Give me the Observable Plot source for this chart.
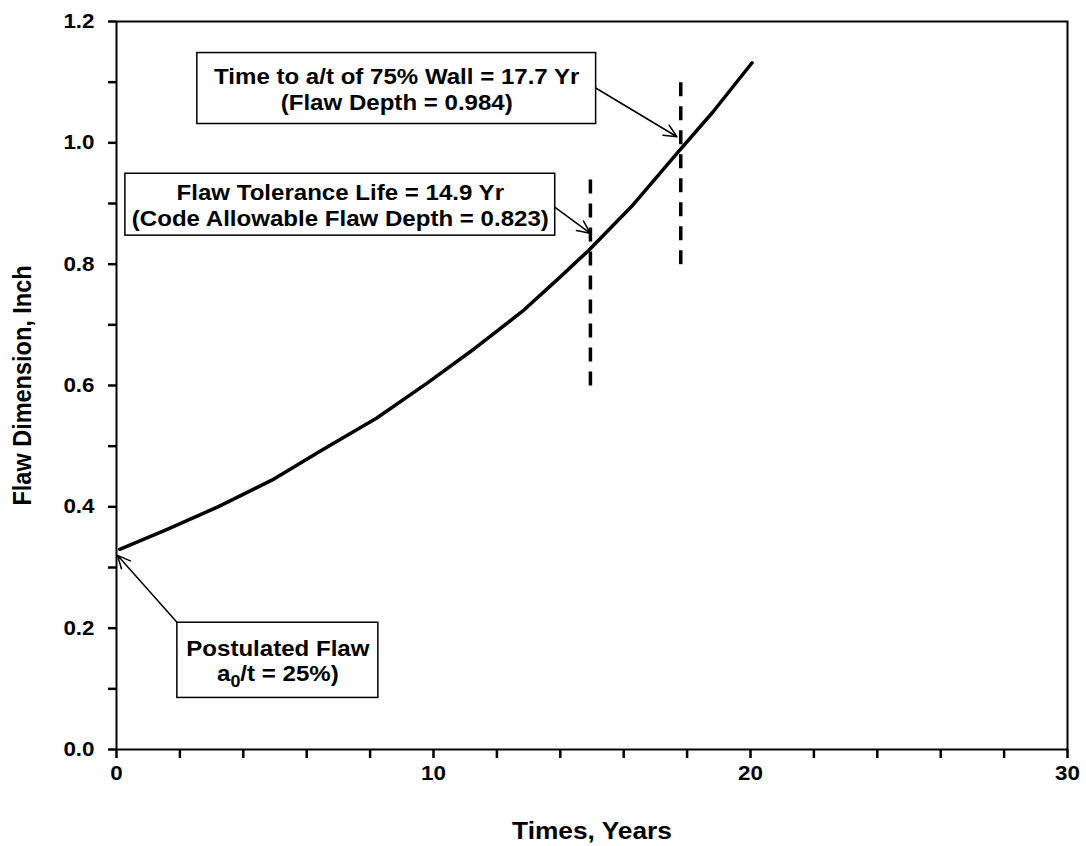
<!DOCTYPE html>
<html>
<head>
<meta charset="utf-8">
<script src="https://cdn.jsdelivr.net/npm/d3@7"></script>
<script src="https://cdn.jsdelivr.net/npm/@observablehq/plot@0.6"></script>
<style>
  html, body { margin: 0; padding: 0; background: #fff; }
  #chart { width: 1086px; height: 846px; }
</style>
</head>
<body>
<div id="chart"></div>
<script>
// Crack growth curve
const years = [0.1, 1.6, 3.2, 4.9, 6.5, 8.2, 9.8, 11.3, 12.8, 14.0, 14.9, 16.3, 17.7, 18.8, 20.05];
const depth = [0.33, 0.363, 0.40, 0.444, 0.494, 0.546, 0.604, 0.661, 0.722, 0.779, 0.823, 0.898, 0.984, 1.05, 1.132];

// Vertical dashed markers
const markerX = [14.95, 17.8];
const markerY1 = [0.60, 0.80];
const markerY2 = [0.955, 1.102];

// Annotation boxes
const boxX1 = [2.55, 0.28, 1.92];
const boxX2 = [15.13, 13.84, 8.26];
const boxY1 = [1.031, 0.847, 0.085];
const boxY2 = [1.148, 0.949, 0.209];
const boxText = [
  "Time to a/t of 75% Wall = 17.7 Yr\n(Flaw Depth = 0.984)",
  "Flaw Tolerance Life = 14.9 Yr\n(Code Allowable Flaw Depth = 0.823)",
  "Postulated Flaw\na0/t = 25%)"
];

// Annotation arrows
const arrX1 = [15.13, 13.77, 1.92];
const arrY1 = [1.090, 0.896, 0.209];
const arrX2 = [17.68, 14.94, 0.03];
const arrY2 = [1.010, 0.851, 0.320];

const xTicks = d3.range(0, 31, 2);
const yTicks = d3.range(0, 1.2001, 0.1).map(v => +v.toFixed(1));

const curve = years.map((x, i) => ({x, y: depth[i]}));
const markers = markerX.map((x, i) => ({x, y1: markerY1[i], y2: markerY2[i]}));
const boxes = boxText.map((t, i) => ({x1: boxX1[i], x2: boxX2[i], y1: boxY1[i], y2: boxY2[i], t,
  cx: (boxX1[i] + boxX2[i]) / 2, cy: (boxY1[i] + boxY2[i]) / 2}));
const arrows = arrX1.map((x1, i) => ({x1, y1: arrY1[i], x2: arrX2[i], y2: arrY2[i]}));

const FONT = "'Liberation Sans', Arial, Helvetica, sans-serif";

const chart = Plot.plot({
  width: 1086,
  height: 846,
  marginLeft: 116,
  marginRight: 19,
  marginTop: 21,
  marginBottom: 97,
  style: {fontFamily: FONT, fontWeight: "bold", fontSize: "20px", color: "#000", background: "#fff", overflow: "visible"},
  x: {domain: [0, 30]},
  y: {domain: [0, 1.2]},
  marks: [
    Plot.axisX({ticks: xTicks, tickFormat: d => d % 10 === 0 ? String(d) : "", tickSize: 9, tickPadding: 7,
      strokeWidth: 2.5, fontSize: 20, fontWeight: "bold",
      label: "Times, Years", labelAnchor: "center", labelArrow: "none", labelOffset: 89}),
    Plot.axisY({ticks: yTicks, tickFormat: d => (Math.round(d * 10) % 2 === 0) ? d.toFixed(1) : "", tickSize: 8, tickPadding: 14,
      strokeWidth: 2.5, fontSize: 20, fontWeight: "bold",
      label: "Flaw Dimension, Inch", labelAnchor: "center", labelArrow: "none", labelOffset: 104}),
    Plot.frame({stroke: "#000", strokeWidth: 2}),
    Plot.link(markers, {x1: "x", x2: "x", y1: "y1", y2: "y2", stroke: "#000", strokeWidth: 3.5, strokeDasharray: "14,10"}),
    Plot.line(curve, {x: "x", y: "y", stroke: "#000", strokeWidth: 3.5, curve: "linear"}),
    Plot.arrow(arrows, {x1: "x1", y1: "y1", x2: "x2", y2: "y2", stroke: "#000", strokeWidth: 1.5, headLength: 14, headAngle: 50, bend: 0}),
    Plot.rect(boxes, {x1: "x1", x2: "x2", y1: "y1", y2: "y2", fill: "#fff", stroke: "#000", strokeWidth: 1.5}),
    Plot.text(boxes, {x: "cx", y: "cy", text: "t", fontSize: 21.5, fontWeight: "bold", fill: "#000", lineHeight: 1.2, textAnchor: "middle", lineAnchor: "middle"})
  ]
});

document.getElementById("chart").appendChild(chart);

// Axis title font sizes
const svg = d3.select(chart);
svg.selectAll("text").each(function () {
  const t = this.textContent;
  if (t === "Times, Years" || t === "Flaw Dimension, Inch") {
    d3.select(this).attr("font-size", 23.5).attr("font-weight", "bold");
  }
});

// Subscript in "a0/t"
svg.selectAll("tspan").each(function () {
  if (this.textContent === "a0/t = 25%)") {
    const el = d3.select(this);
    el.text("");
    el.append("tspan").text("a");
    el.append("tspan").attr("dy", 6).attr("font-size", 16).text("0");
    el.append("tspan").attr("dy", -6).text("/t = 25%)");
  }
});

// Horizontal stretch of glyphs (as in the reference)
const S = 1.12;
svg.selectAll("text").each(function () {
  const tr = this.getAttribute("transform") || "";
  if (/rotate\(-90\)/.test(tr)) this.setAttribute("transform", tr + ` scale(1,${S})`);
  else this.setAttribute("transform", tr + ` scale(${S},1)`);
});
</script>
</body>
</html>
